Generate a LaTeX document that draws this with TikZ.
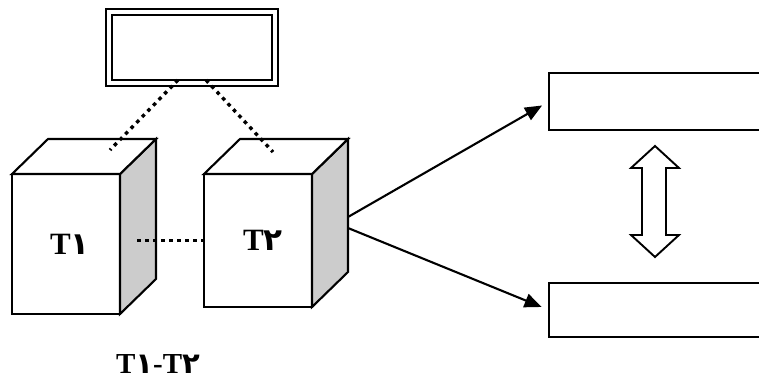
\documentclass[tikz,border=0pt]{standalone}
\usepackage{fontspec}
\setmainfont{Liberation Serif}
\newfontfamily\arabicfont[Script=Arabic]{DejaVu Sans}
\usetikzlibrary{arrows.meta,calc}
\newcommand{\dgA}{{\arabicfont\bfseries ١}}
\newcommand{\dgB}{{\arabicfont\bfseries ٢}}
\begin{document}
\begin{tikzpicture}[x=1pt,y=-1pt,
  edge/.style={line width=2.1pt, line join=miter},
  cubefront/.style={draw, edge, fill=white, rectangle, inner sep=0pt, outer sep=0pt,
      minimum width=108pt, font=\fontsize{31}{31}\selectfont\bfseries},
  dotline/.style={line width=3.4pt, dash pattern=on 3.6pt off 4.4pt},
  box/.style={draw, line width=2pt, rectangle, inner sep=0pt, outer sep=0pt},
  arr/.style={line width=2.1pt, -{Triangle[length=17pt,width=14pt]}, shorten >=8pt}]
\useasboundingbox (0,0) rectangle (759,385);
% top double box
\node[box, line width=2.8pt, minimum width=160pt, minimum height=65pt] (top) at (192,47.5) {};
\draw[line width=1.8pt] ([shift={(-6,-6)}]top.north west) rectangle ([shift={(6,6)}]top.south east);
% cube 1
\node[cubefront, minimum height=140pt] (c1) at (66,244) {\hspace*{8pt}T\dgA};
\draw[edge, fill=gray!40] (c1.north east) -- ++(36,-35) -- ($(c1.south east)+(36,-35)$) -- (c1.south east) -- cycle;
\draw[edge, fill=white] (c1.north west) -- ++(36,-35) -- ($(c1.north east)+(36,-35)$) -- (c1.north east) -- cycle;
% cube 2
\node[cubefront, minimum height=133pt] (c2) at (258,240.5) {\hspace*{10pt}T\dgB};
\draw[edge, fill=gray!40] (c2.north east) -- ++(36,-35) -- ($(c2.south east)+(36,-35)$) -- (c2.south east) -- cycle;
\draw[edge, fill=white] (c2.north west) -- ++(36,-35) -- ($(c2.north east)+(36,-35)$) -- (c2.north east) -- cycle;
% dotted connectors
\coordinate (e1) at (110,150);
\coordinate (e2) at (273,152);
\draw[dotline] ([xshift=-14pt]top.south) -- (e1);
\draw[dotline] ([xshift=14pt]top.south) -- (e2);
\draw[dotline] ([xshift=17pt]c1.east |- c2.west) -- (c2.west);
% right boxes
\node[box, minimum width=222pt, minimum height=57pt, anchor=north west] (r1) at (549,73) {};
\node[box, minimum width=222pt, minimum height=54pt, anchor=north west] (r2) at (549,283) {};
% arrows
\coordinate (s1) at (348,217);
\coordinate (s2) at (348,228);
\draw[arr] (s1) -- (r1.west);
\draw[arr] (s2) -- (r2.west);
% double arrow
\draw[line width=1.9pt, fill=white, line join=miter]
  (655,146) -- (679,168) -- (666,168) -- (666,235) -- (679,235) -- (655,257)
  -- (631,235) -- (642,235) -- (642,168) -- (631,168) -- cycle;
% bottom label
\node[anchor=base, inner sep=0pt, font=\fontsize{29}{29}\selectfont\bfseries] (lbl) at (158,373) {T\dgA-T\dgB};
\end{tikzpicture}
\end{document}
